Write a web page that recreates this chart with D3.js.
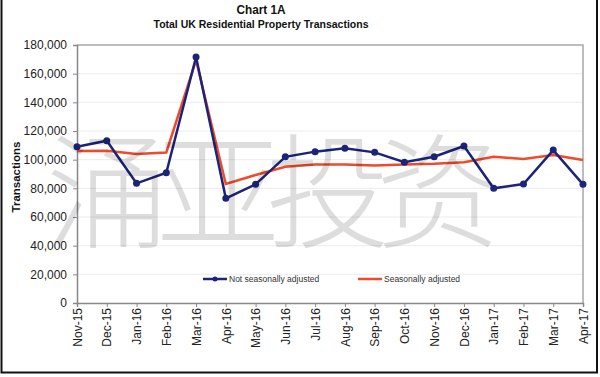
<!DOCTYPE html>
<html>
<head>
<meta charset="utf-8">
<script src="https://cdn.jsdelivr.net/npm/d3@7"></script>
<style>
  html, body { margin: 0; padding: 0; background: #fff; }
  svg { display: block; font-family: "Liberation Sans", Arial, sans-serif; }
</style>
</head>
<body>
<div id="chart"></div>
<script>
// data
const months = ["Nov-15", "Dec-15", "Jan-16", "Feb-16", "Mar-16", "Apr-16", "May-16", "Jun-16",
    "Jul-16", "Aug-16", "Sep-16", "Oct-16", "Nov-16", "Dec-16", "Jan-17", "Feb-17", "Mar-17", "Apr-17"];
const notAdjusted = [109000, 113200, 83500, 90900, 171600, 73000, 82800, 102000,
    105600, 107900, 105100, 98200, 102000, 109500, 80000, 83000, 106700, 82800];
const seasonallyAdjusted = [106000, 106300, 104000, 105000, 169500, 83000, 89300, 95100,
    96700, 96700, 96000, 96700, 97200, 98200, 102000, 100500, 103300, 99800];
const yTicks = [0, 20000, 40000, 60000, 80000, 100000, 120000, 140000, 160000, 180000];
const seriesNames = ["Not seasonally adjusted", "Seasonally adjusted"];

const width = 600;
const height = 377;
const margin = { top: 45, right: 17, bottom: 74, left: 77 };
const chartWidth = width - margin.left - margin.right;
const chartHeight = height - margin.top - margin.bottom;

const svg = d3.select("#chart").append("svg")
    .attr("width", width)
    .attr("height", height);

// outer frame
svg.append("rect")
    .attr("x", 1.5).attr("y", -2)
    .attr("width", 595.5).attr("height", 374.5)
    .attr("fill", "#fff")
    .attr("stroke", "#111")
    .attr("stroke-width", 2);

// titles
svg.append("text")
    .attr("x", 261).attr("y", 14)
    .attr("text-anchor", "middle")
    .attr("textLength", 49).attr("lengthAdjust", "spacingAndGlyphs")
    .style("font-size", "13.5px").style("font-weight", "bold").style("fill", "#111")
    .text("Chart 1A");
svg.append("text")
    .attr("x", 261).attr("y", 28)
    .attr("text-anchor", "middle")
    .attr("textLength", 215).attr("lengthAdjust", "spacingAndGlyphs")
    .style("font-size", "11px").style("font-weight", "bold").style("fill", "#111")
    .text("Total UK Residential Property Transactions");

const g = svg.append("g")
    .attr("transform", `translate(${margin.left}, ${margin.top})`);

const x = d3.scalePoint()
    .domain(months)
    .range([0, chartWidth]);

const y = d3.scaleLinear()
    .domain([0, 180000])
    .range([chartHeight, 0]);

// faint gridlines
g.append("g")
    .selectAll("line")
    .data(yTicks.slice(1, -1))
    .enter().append("line")
    .attr("x1", 0).attr("x2", chartWidth)
    .attr("y1", d => y(d)).attr("y2", d => y(d))
    .attr("stroke", "#ececec");

// watermark
svg.append("text")
    .attr("x", 266).attr("y", 238)
    .attr("text-anchor", "middle")
    .style("font-family", "'Noto Sans CJK SC', sans-serif")
    .style("font-size", "124px")
    .style("font-weight", "300")
    .style("letter-spacing", "-14px")
    .style("fill", "#000")
    .style("opacity", 0.13)
    .text("涌亚投资");

// top and right border of plot area
g.append("path")
    .attr("d", `M0,0H${chartWidth}V${chartHeight}`)
    .attr("fill", "none")
    .attr("stroke", "#a8a8a8")
    .attr("stroke-width", 1.5);

// y axis
const yAxis = g.append("g")
    .call(d3.axisLeft(y).tickValues(yTicks).tickSize(4).tickPadding(6).tickFormat(d3.format(",")));
yAxis.select(".domain").attr("stroke", "#888").attr("stroke-width", 1.5);
yAxis.selectAll(".tick line").attr("stroke", "#888");
yAxis.selectAll("text")
    .style("fill", "#222")
    .style("font-size", "12px")
    .style("font-family", "'Liberation Sans', Arial, sans-serif");

// x axis
const xAxis = g.append("g")
    .attr("transform", `translate(0, ${chartHeight})`)
    .call(d3.axisBottom(x).tickSize(4));
xAxis.select(".domain").attr("stroke", "#888").attr("stroke-width", 1.5);
xAxis.selectAll(".tick line").attr("stroke", "#888");
xAxis.selectAll("text")
    .attr("transform", "rotate(-90)")
    .attr("x", -5).attr("y", 0).attr("dy", "0.35em")
    .style("text-anchor", "end")
    .style("fill", "#222")
    .style("font-size", "12px")
    .style("font-family", "'Liberation Sans', Arial, sans-serif");

// y axis title
svg.append("text")
    .attr("transform", "translate(20, 177) rotate(-90)")
    .attr("text-anchor", "middle")
    .style("font-size", "11.5px").style("font-weight", "bold").style("fill", "#111")
    .text("Transactions");

const line = d3.line()
    .x((d, i) => x(months[i]))
    .y(d => y(d));

const blue = "#1c2479";
const red = "#ee4a2c";

g.append("path")
    .datum(seasonallyAdjusted)
    .attr("fill", "none")
    .attr("stroke", red)
    .attr("stroke-width", 2.5)
    .attr("d", line);

g.append("path")
    .datum(notAdjusted)
    .attr("fill", "none")
    .attr("stroke", blue)
    .attr("stroke-width", 2.5)
    .attr("d", line);

g.selectAll(".dot")
    .data(notAdjusted)
    .enter().append("circle")
    .attr("class", "dot")
    .attr("cx", (d, i) => x(months[i]))
    .attr("cy", d => y(d))
    .attr("r", 3.5)
    .attr("fill", blue);

// legend
const legend = svg.append("g").attr("transform", "translate(0, 279)");
const legendItems = [
    { name: seriesNames[0], color: blue, x: 203, dot: true },
    { name: seriesNames[1], color: red, x: 358, dot: false }
];
legendItems.forEach(item => {
    legend.append("line")
        .attr("x1", item.x).attr("x2", item.x + 24)
        .attr("stroke", item.color).attr("stroke-width", 2.5);
    if (item.dot) {
        legend.append("circle")
            .attr("cx", item.x + 12).attr("r", 2.5).attr("fill", item.color);
    }
    legend.append("text")
        .attr("x", item.x + 26).attr("dy", "0.35em")
        .style("font-size", "8.5px").style("fill", "#333")
        .text(item.name);
});
</script>
</body>
</html>
